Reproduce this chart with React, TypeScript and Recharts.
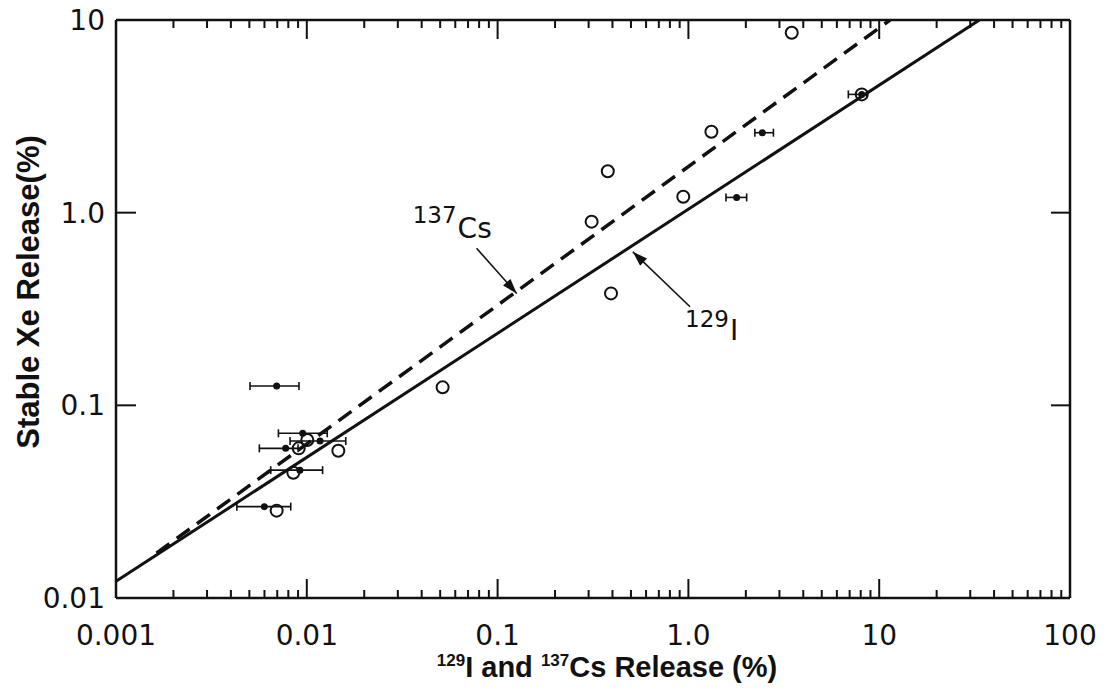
import React from "react";
import { ScatterChart, Scatter, XAxis, YAxis, ErrorBar, ReferenceLine, Label } from "recharts";

// axis ticks
const xMajor = [0.001, 0.01, 0.1, 1, 10, 100];
const xTickLabels = ["0.001", "0.01", "0.1", "1.0", "10", "100"];
const yMajor = [0.01, 0.1, 1, 10];
const yTickLabels = ["0.01", "0.1", "1.0", "10"];
const minorSteps = [2, 3, 4, 5, 6, 7, 8, 9];

// open circles
const openX = [0.00695, 0.0085, 0.00907, 0.01006, 0.01463, 0.0515, 0.311, 0.378, 0.393, 0.94, 1.32, 3.48, 8.1];
const openY = [0.0284, 0.0447, 0.0598, 0.0661, 0.0581, 0.124, 0.898, 1.64, 0.381, 1.21, 2.63, 8.59, 4.11];

// filled dots with horizontal error bars
const dotX = [0.00695, 0.00952, 0.01173, 0.00775, 0.0092, 0.00599, 1.79, 2.44, 8.1];
const dotY = [0.126, 0.0716, 0.0653, 0.0598, 0.0461, 0.0298, 1.2, 2.6, 4.11];
const dotLow = [0.00504, 0.0071, 0.00817, 0.00564, 0.00647, 0.0043, 1.574, 2.23, 6.89];
const dotHigh = [0.0091, 0.0128, 0.016, 0.009, 0.0121, 0.00824, 2.02, 2.79, 8.6];

// fitted lines (end points)
const iodineLineX = [0.001, 33.5];
const iodineLineY = [0.0122, 10];
const cesiumLineX = [0.00163, 11.4];
const cesiumLineY = [0.0171, 10];

// annotation arrows (start -> tip)
const csArrow = [{ x: 0.0776, y: 0.653 }, { x: 0.126, y: 0.381 }];
const iArrow = [{ x: 1.02, y: 0.325 }, { x: 0.511, y: 0.627 }];

const ink = "#111";
const tickFont = "'DejaVu Sans', sans-serif";
const titleFont = "'Liberation Sans', Arial, sans-serif";

const minorOf = (majors: number[]) => {
  const out: number[] = [];
  majors.slice(0, -1).forEach((m) => minorSteps.forEach((s) => out.push(m * s)));
  return out;
};
const xTicks = [...xMajor, ...minorOf(xMajor)].sort((a, b) => a - b);

const majorIndex = (v: number, list: number[]) =>
  list.findIndex((m) => Math.abs(m - v) / m < 1e-6);

const openData = openX.map((x, i) => ({ x, y: openY[i] }));
const dotData = dotX.map((x, i) => ({ x, y: dotY[i], err: [x - dotLow[i], dotHigh[i] - x] }));
const iodineLine = iodineLineX.map((x, i) => ({ x, y: iodineLineY[i] }));
const cesiumLine = cesiumLineX.map((x, i) => ({ x, y: cesiumLineY[i] }));

function BottomTick({ x, y, payload }: any) {
  const idx = majorIndex(payload.value, xMajor);
  return (
    <g>
      <line x1={x} x2={x} y1={y} y2={y - (idx >= 0 ? 19 : 8)} stroke={ink} strokeWidth={2} />
      {idx >= 0 && (
        <text x={x} y={y + 47} textAnchor="middle" fontFamily={tickFont} fontSize={28} fill={ink}>
          {xTickLabels[idx]}
        </text>
      )}
    </g>
  );
}

function TopTick({ x, y, payload }: any) {
  const idx = majorIndex(payload.value, xMajor);
  return <line x1={x} x2={x} y1={y} y2={y + (idx >= 0 ? 19 : 8)} stroke={ink} strokeWidth={2} />;
}

function LeftTick({ x, y, payload }: any) {
  const idx = majorIndex(payload.value, yMajor);
  return (
    <g>
      <line x1={x} x2={x + 20} y1={y} y2={y} stroke={ink} strokeWidth={2} />
      <text x={x - 11} y={y + 10} textAnchor="end" fontFamily={tickFont} fontSize={28} fill={ink}>
        {yTickLabels[idx]}
      </text>
    </g>
  );
}

function RightTick({ x, y }: any) {
  return <line x1={x} x2={x - 19} y1={y} y2={y} stroke={ink} strokeWidth={2} />;
}

function arrowHead(x1: number, y1: number, x2: number, y2: number) {
  const a = Math.atan2(y2 - y1, x2 - x1);
  const len = 15;
  const hw = 5;
  const bx = x2 - len * Math.cos(a);
  const by = y2 - len * Math.sin(a);
  const px = -Math.sin(a) * hw;
  const py = Math.cos(a) * hw;
  return `${x2},${y2} ${bx + px},${by + py} ${bx - px},${by - py}`;
}

function CsArrow(p: any) {
  const { x1, y1, x2, y2 } = p;
  return (
    <g>
      <line x1={x1} y1={y1} x2={x2} y2={y2} stroke={ink} strokeWidth={1.6} />
      <polygon points={arrowHead(x1, y1, x2, y2)} fill={ink} />
      <text x={x1 - 20} y={y1 - 25} textAnchor="end" fontFamily={tickFont} fontSize={23} fill={ink}>137</text>
      <text x={x1 - 19} y={y1 - 10} fontFamily={tickFont} fontSize={28} fill={ink}>Cs</text>
    </g>
  );
}

function IArrow(p: any) {
  const { x1, y1, x2, y2 } = p;
  return (
    <g>
      <line x1={x1} y1={y1} x2={x2} y2={y2} stroke={ink} strokeWidth={1.6} />
      <polygon points={arrowHead(x1, y1, x2, y2)} fill={ink} />
      <text x={x1 - 5} y={y1 + 20} fontFamily={tickFont} fontSize={23} fill={ink}>129</text>
      <text x={x1 + 40} y={y1 + 33} fontFamily={tickFont} fontSize={28} fill={ink}>I</text>
    </g>
  );
}

function YTitle(props: any) {
  const vb = props.viewBox;
  const cx = vb.x + 28;
  const cy = vb.y + vb.height / 2 - 17;
  return (
    <text x={cx} y={cy} transform={`rotate(-90 ${cx} ${cy})`} textAnchor="middle" dominantBaseline="central"
      fontFamily={titleFont} fontWeight="bold" fontSize={31} fill={ink}>
      Stable Xe Release(%)
    </text>
  );
}

function XTitle(props: any) {
  const vb = props.viewBox;
  const cx = vb.x + vb.width / 2 + 14;
  const by = vb.y + 79;
  return (
    <text x={cx} y={by} textAnchor="middle" fontFamily={titleFont} fontWeight="bold" fontSize={29} fill={ink}>
      <tspan fontSize={17} dy={-11}>129</tspan>
      <tspan dy={11}>I and </tspan>
      <tspan fontSize={17} dy={-11}>137</tspan>
      <tspan dy={11}>Cs Release (%)</tspan>
    </text>
  );
}

export default function App() {
  return (
    <div style={{ position: "absolute", left: 0, top: 0, width: 1109, height: 697, background: "#fff" }}>
      <ScatterChart width={1109} height={697} margin={{ top: 0, right: 0, bottom: 0, left: 0 }}>
        <XAxis
          xAxisId={0}
          type="number"
          dataKey="x"
          scale="log"
          domain={[0.001, 100]}
          allowDataOverflow
          ticks={xTicks}
          interval={0}
          height={99}
          tickSize={0}
          tickMargin={0}
          tickLine={false}
          tick={<BottomTick />}
          axisLine={{ stroke: ink, strokeWidth: 2.5 }}
        >
          <Label content={<XTitle />} />
        </XAxis>
        <XAxis
          xAxisId="top"
          orientation="top"
          type="number"
          dataKey="x"
          scale="log"
          domain={[0.001, 100]}
          allowDataOverflow
          ticks={xTicks}
          interval={0}
          height={20}
          tickSize={0}
          tickMargin={0}
          tickLine={false}
          tick={<TopTick />}
          axisLine={{ stroke: ink, strokeWidth: 2.5 }}
        />
        <YAxis
          yAxisId={0}
          type="number"
          dataKey="y"
          scale="log"
          domain={[0.01, 10]}
          allowDataOverflow
          ticks={yMajor}
          interval={0}
          width={116}
          tickSize={0}
          tickMargin={0}
          tickLine={false}
          tick={<LeftTick />}
          axisLine={{ stroke: ink, strokeWidth: 2.5 }}
        >
          <Label content={<YTitle />} />
        </YAxis>
        <YAxis
          yAxisId="right"
          orientation="right"
          type="number"
          dataKey="y"
          scale="log"
          domain={[0.01, 10]}
          allowDataOverflow
          ticks={yMajor}
          interval={0}
          width={39}
          tickSize={0}
          tickMargin={0}
          tickLine={false}
          tick={<RightTick />}
          axisLine={{ stroke: ink, strokeWidth: 2.5 }}
        />
        <Scatter
          data={iodineLine}
          fill={ink}
          line={{ stroke: ink, strokeWidth: 3 }}
          shape={() => <g />}
          isAnimationActive={false}
        />
        <Scatter
          data={cesiumLine}
          fill={ink}
          line={{ stroke: ink, strokeWidth: 3.5, strokeDasharray: "16 9" }}
          shape={() => <g />}
          isAnimationActive={false}
        />
        <Scatter
          data={dotData}
          fill={ink}
          shape={(p: any) => <circle cx={p.cx} cy={p.cy} r={3.5} fill={ink} />}
          isAnimationActive={false}
        >
          <ErrorBar dataKey="err" direction="x" width={4} stroke={ink} strokeWidth={1.6} />
        </Scatter>
        <Scatter
          data={openData}
          fill="none"
          shape={(p: any) => <circle cx={p.cx} cy={p.cy} r={6} fill="none" stroke={ink} strokeWidth={2} />}
          isAnimationActive={false}
        />
        <ReferenceLine segment={csArrow} shape={(p: any) => <CsArrow {...p} />} ifOverflow="visible" />
        <ReferenceLine segment={iArrow} shape={(p: any) => <IArrow {...p} />} ifOverflow="visible" />
      </ScatterChart>
    </div>
  );
}
